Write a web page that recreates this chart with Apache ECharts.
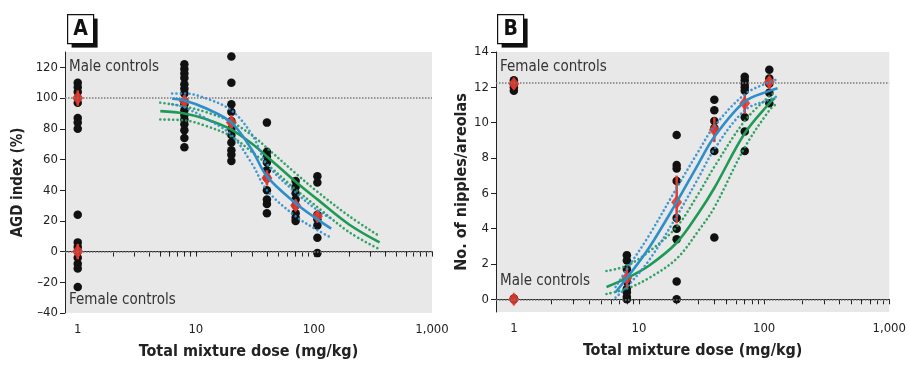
<!DOCTYPE html>
<html>
<head>
<meta charset="utf-8">
<script src="https://cdn.jsdelivr.net/npm/echarts@6/dist/echarts.min.js"></script>
<style>
  html, body { margin: 0; background: #fff; }
  #chart { width: 909px; height: 365px; }
</style>
</head>
<body>
<div id="chart"></div>
<script>
  var FONT = '"Liberation Sans Narrow", "DejaVu Sans Condensed", "Roboto", sans-serif'

  // x ticks / labels (log dose axis)
  var xLabelVals = [1, 10, 100, 1000]
  var xTickVals = [1, 2, 3, 4, 5, 6, 7, 8, 9, 10, 20, 30, 40, 50, 60, 70, 80, 90,
    100, 200, 300, 400, 500, 600, 700, 800, 900, 1000]
  var aYTicks = [-40, -20, 0, 20, 40, 60, 80, 100, 120]
  var bYTicks = [0, 2, 4, 6, 8, 10, 12, 14]

  /* panel A : AGD index */
  var aDoses = [1, 8, 20, 40, 70, 107]
  var aPoints = [
    [110, 107, 104, 100, 97, 87, 84, 80, 24, 6, 3, 0, -4, -8, -11, -23],
    [122, 119, 116, 113, 109, 106, 103, 98, 96, 92, 89, 86, 83, 79, 74, 68],
    [127, 110, 96, 91, 85, 80, 76, 71, 66, 63, 59],
    [84, 65, 62, 58, 53, 48, 40, 34, 31, 25],
    [46, 42, 38, 34, 30, 25, 22, 20],
    [49, 45, 24, 21, 17, 9, -1]
  ]
  var aMeanDose = [1, 1, 8, 20, 40, 70, 107]
  var aMean = [100, 0, 98, 84, 48, 30, 23]
  var aMeanLo = [95, -5, 94, 80, 43, 27, 19]
  var aMeanHi = [105, 5, 102, 89, 53, 34, 27]
  var aControls = [100, 0]

  var aBlueDose = [6.3, 8, 12, 20, 30, 40, 70, 107, 140]
  var aBlue = [99.5, 98.4, 93.5, 84, 66, 49, 31.5, 21, 15]
  var aBlueHi = [103, 103, 100, 92, 76, 57, 38.5, 27, 21.5]
  var aBlueLo = [96, 94, 87, 76, 57, 40, 23, 14, 9]
  var aGreenDose = [5, 8, 12, 20, 32, 40, 70, 107, 200, 360]
  var aGreen = [91.5, 90, 86.5, 79.5, 68.5, 62, 45.5, 34, 17.5, 6]
  var aGreenHi = [97, 94.5, 91, 84.5, 74, 67.5, 51, 39, 23, 10]
  var aGreenLo = [86, 85.5, 82, 75, 63, 57, 40.5, 29, 12.5, 1.5]

  /* panel B : nipples/areolas */
  var bDoses = [1, 8, 20, 40, 70, 110]
  var bPoints = [
    [12.4, 12.2, 12.0, 11.8, 0.05, 0],
    [2.5, 2.2, 1.7, 1.0, 0.6, 0.4, 0.15, 0],
    [9.3, 7.6, 7.4, 6.7, 4.6, 4.0, 3.4, 1.0, 0],
    [11.3, 10.7, 10.1, 9.7, 8.4, 3.5],
    [12.6, 12.4, 12.2, 12.0, 11.8, 10.3, 9.5, 8.4],
    [13.0, 12.5, 12.2, 11.7, 11.1]
  ]
  var bMeanDose = [1, 1, 8, 20, 40, 70, 110]
  var bMean = [12.2, 0, 1.2, 5.5, 9.6, 11.1, 12.3]
  var bMeanLo = [11.9, -0.1, 0.6, 4.3, 8.9, 10.5, 11.9]
  var bMeanHi = [12.4, 0.1, 1.8, 7.0, 10.3, 11.6, 12.6]
  var bControls = [12.25, 0]

  var bBlueDose = [6.5, 8, 12, 20, 30, 40, 70, 110, 128]
  var bBlue = [0.4, 1.2, 2.9, 5.5, 7.7, 9.2, 11.2, 11.8, 11.95]
  var bBlueHi = [0.7, 1.7, 3.6, 6.3, 8.4, 9.8, 11.6, 12.3, 12.45]
  var bBlueLo = [0.1, 0.7, 2.2, 4.7, 6.9, 8.5, 10.7, 11.3, 11.5]
  var bGreenDose = [5.5, 8, 12, 20, 30, 40, 70, 110, 122]
  var bGreen = [0.7, 1.2, 1.9, 3.2, 4.9, 6.3, 9.4, 11.1, 11.4]
  var bGreenHi = [1.6, 1.9, 2.7, 4.1, 6.0, 7.5, 10.1, 11.5, 11.7]
  var bGreenLo = [0.3, 0.6, 1.2, 2.3, 3.9, 5.2, 8.6, 10.7, 11.0]

  var BLUE = '#2c8fcc'
  var GREEN = '#1f9a55'
  var RED = '#e4392d'

  function pairs(xs, ys) {
    return xs.map(function (x, i) { return [x, ys[i]] })
  }

  function doseAxis(grid, min) {
    return {
      type: 'log', gridIndex: grid, min: min, max: 1000, logBase: 10,
      name: 'Total mixture dose (mg/kg)', nameLocation: 'middle', nameGap: 31,
      nameTextStyle: { fontFamily: FONT, fontWeight: 'bold', fontSize: 16, color: '#222' },
      axisLine: { show: true, lineStyle: { color: '#222', width: 1 } },
      axisTick: { show: true, customValues: xTickVals, length: 5, lineStyle: { color: '#222' } },
      axisLabel: {
        customValues: xLabelVals, margin: 10, fontFamily: FONT, fontSize: 13, color: '#222',
        formatter: function (v) { return Math.round(v) >= 1000 ? '1,000' : String(Math.round(v)) }
      },
      splitLine: { show: false }
    }
  }

  function valueAxis(grid, min, max, ticks, name, gap, size) {
    return {
      type: 'value', gridIndex: grid, min: min, max: max,
      name: name, nameLocation: 'middle', nameGap: gap,
      nameTextStyle: { fontFamily: FONT, fontWeight: 'bold', fontSize: size, color: '#222' },
      axisLine: { show: true, lineStyle: { color: '#222', width: 1 } },
      axisTick: { show: true, customValues: ticks, length: 5, lineStyle: { color: '#222' } },
      axisLabel: {
        customValues: ticks, margin: 7, fontFamily: FONT, fontSize: 13, color: '#222',
        formatter: function (v) { return v < 0 ? '\u2013' + (-v) : String(v) }
      },
      splitLine: { show: false }
    }
  }

  function curve(idx, xs, ys, color, dotted) {
    return {
      type: 'line', xAxisIndex: idx, yAxisIndex: idx, data: pairs(xs, ys),
      smooth: 0.35, showSymbol: false, silent: true, z: 5,
      lineStyle: dotted
        ? { color: color, width: 2.6, type: [0.1, 4.2], cap: 'round', opacity: 0.9 }
        : { color: color, width: 2.6 }
    }
  }

  function dots(idx, doses, groups, controls) {
    var data = []
    doses.forEach(function (d, i) {
      groups[i].forEach(function (v) { data.push([d, v]) })
    })
    return {
      type: 'scatter', xAxisIndex: idx, yAxisIndex: idx, data: data,
      symbolSize: 8.5, itemStyle: { color: '#111', opacity: 1 }, z: 3, silent: true,
      markLine: {
        silent: true, symbol: 'none', label: { show: false },
        lineStyle: { color: '#7a7a7a', type: [1.5, 1.5], width: 1.5 },
        data: controls.map(function (c) { return { yAxis: c } })
      }
    }
  }

  function errBars(idx, xs, lo, hi) {
    return {
      type: 'custom', xAxisIndex: idx, yAxisIndex: idx, z: 4, silent: true,
      data: xs.map(function (x, i) { return [x, lo[i], hi[i]] }),
      renderItem: function (params, api) {
        var p1 = api.coord([api.value(0), api.value(1)])
        var p2 = api.coord([api.value(0), api.value(2)])
        return {
          type: 'line',
          shape: { x1: p1[0], y1: p1[1], x2: p2[0], y2: p2[1] },
          style: { stroke: RED, lineWidth: 2.5 }
        }
      }
    }
  }

  function means(idx, xs, ys) {
    return {
      type: 'scatter', xAxisIndex: idx, yAxisIndex: idx, data: pairs(xs, ys),
      symbol: 'diamond', symbolSize: [11, 14], z: 4, silent: true,
      itemStyle: { color: RED, opacity: 0.9 }
    }
  }

  function panelTag(x, letter) {
    return {
      type: 'group', left: x, top: 14,
      children: [
        { type: 'rect', shape: { x: 4, y: 4, width: 26, height: 29 }, style: { fill: '#111' } },
        { type: 'rect', shape: { x: 0, y: 0, width: 26, height: 29 }, style: { fill: '#fff', stroke: '#111', lineWidth: 1.2 } },
        { type: 'text', x: 13, y: 15, style: { text: letter, fontFamily: FONT, fontWeight: 'bold', fontSize: 21, fill: '#111', align: 'center', verticalAlign: 'middle' } }
      ]
    }
  }

  function note(x, y, s) {
    return {
      type: 'text', left: x, top: y,
      style: { text: s, fontFamily: FONT, fontSize: 15, fill: '#333' }
    }
  }

  var chart = echarts.init(document.getElementById('chart'), null, { renderer: 'canvas' })
  chart.setOption({
    backgroundColor: '#fff',
    animation: false,
    grid: [
      { left: 65, top: 52, width: 367, height: 261, show: true, backgroundColor: '#e8e8e8', borderWidth: 0 },
      { left: 496, top: 52, width: 396, height: 260, show: true, backgroundColor: '#e8e8e8', borderWidth: 0 }
    ],
    xAxis: [doseAxis(0, 0.78), doseAxis(1, 0.72)],
    yAxis: [
      valueAxis(0, -40, 130, aYTicks, 'AGD index (%)', 39, 15),
      valueAxis(1, -0.72, 14, bYTicks, 'No. of nipples/areolas', 23, 16)
    ],
    graphic: [
      panelTag(67, 'A'),
      panelTag(497, 'B'),
      note(69, 60, 'Male controls'),
      note(69, 293, 'Female controls'),
      note(500, 60, 'Female controls'),
      note(500, 274, 'Male controls')
    ],
    series: [
      dots(0, aDoses, aPoints, aControls),
      errBars(0, aMeanDose, aMeanLo, aMeanHi),
      means(0, aMeanDose, aMean),
      curve(0, aGreenDose, aGreenHi, GREEN, true),
      curve(0, aGreenDose, aGreenLo, GREEN, true),
      curve(0, aGreenDose, aGreen, GREEN, false),
      curve(0, aBlueDose, aBlueHi, BLUE, true),
      curve(0, aBlueDose, aBlueLo, BLUE, true),
      curve(0, aBlueDose, aBlue, BLUE, false),

      dots(1, bDoses, bPoints, bControls),
      errBars(1, bMeanDose, bMeanLo, bMeanHi),
      means(1, bMeanDose, bMean),
      curve(1, bGreenDose, bGreenHi, GREEN, true),
      curve(1, bGreenDose, bGreenLo, GREEN, true),
      curve(1, bGreenDose, bGreen, GREEN, false),
      curve(1, bBlueDose, bBlueHi, BLUE, true),
      curve(1, bBlueDose, bBlueLo, BLUE, true),
      curve(1, bBlueDose, bBlue, BLUE, false)
    ]
  })
</script>
</body>
</html>
